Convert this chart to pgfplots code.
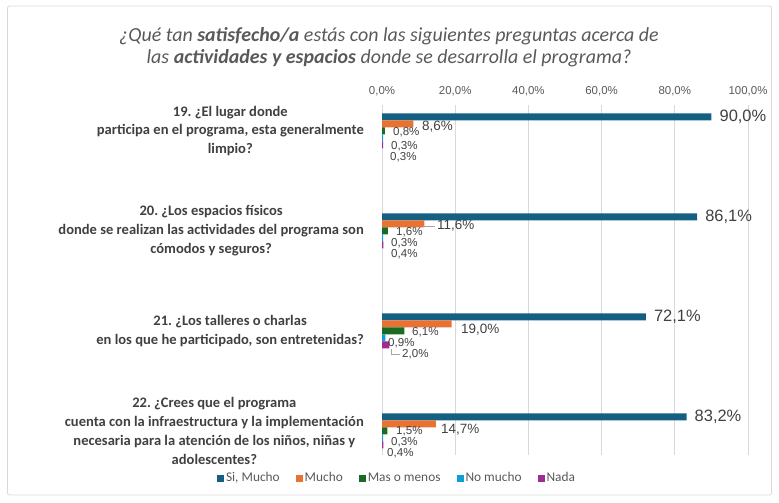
\documentclass[border=0pt]{standalone}
\usepackage{fontspec}
\setmainfont{Carlito}
\newfontfamily\arialf{Liberation Sans}
\usepackage{pgfplots}
\pgfplotsset{compat=1.18}
\definecolor{cBlue}{HTML}{156082}
\definecolor{cOrange}{HTML}{E97132}
\definecolor{cGreen}{HTML}{196B24}
\definecolor{cCyan}{HTML}{0F9ED5}
\definecolor{cPurple}{HTML}{A02B93}
\definecolor{txt}{HTML}{595959}
\definecolor{txtd}{HTML}{404040}
\definecolor{gridc}{HTML}{D9D9D9}
\definecolor{leader}{HTML}{A6A6A6}
\frenchspacing
\begin{document}
\frenchspacing
\begin{tikzpicture}[x=1bp,y=1bp,
  dl/.style={anchor=west, inner sep=0pt, font=\arialf\fontsize{11.6}{13}\selectfont, text=txtd},
  dlm/.style={anchor=west, inner sep=0pt, font=\arialf\fontsize{13.5}{15}\selectfont, text=txtd}]
\path[use as bounding box] (0,0) rectangle (779,503);
\draw[gridc, line width=0.8bp, rounded corners=2bp] (7.5,8) rectangle (771.5,497);
\node[font=\fontsize{20}{22}\selectfont\itshape, text=txt, align=center] at (389,456)
  {¿Qué tan \textbf{satisfecho/a} estás con las siguientes preguntas acerca de\\las \textbf{actividades y espacios} donde se desarrolla el programa?};
\begin{axis}[
  at={(382bp,48bp)}, anchor=south west,
  scale only axis, width=366bp, height=350bp,
  xbar, bar width=0.07,
  xmin=0, xmax=100, ymin=-0.24, ymax=3.26,
  axis line style={draw=none},
  major tick length=0pt,
  xtick={0,20,40,60,80,100},
  xtick pos=top,
  xticklabel pos=top,
  xmajorgrids, major grid style={draw=gridc, line width=0.8bp},
  /pgf/number format/assume math mode=true,
  xticklabel={\pgfmathprintnumber[fixed,fixed zerofill,precision=1,use comma]{\tick}\%},
  x tick label style={font=\arialf\fontsize{11.5}{13}\selectfont, text=txt, yshift=6bp},
  ytick={0,1,2,3},
  yticklabels={{22. ¿Crees que el programa\\cuenta con la infraestructura y la implementación\\necesaria para la atención de los niños, niñas y\\adolescentes?},
    {21. ¿Los talleres o charlas\\en los que he participado, son entretenidas?},
    {20. ¿Los espacios físicos\\donde se realizan las actividades del programa son\\cómodos y seguros?},
    {19. ¿El lugar donde\\participa en el programa, esta generalmente\\limpio?}},
  y tick label style={font=\frenchspacing\bfseries\fontsize{14.6}{19}\selectfont, text=txtd, align=center, inner sep=0pt, xshift=-18bp},
  clip=false,
  legend columns=5,
  legend style={at={(0.041,-0.066)}, anchor=center, draw=none, fill=none,
    font=\fontsize{13.4}{15}\selectfont, text=txt, inner sep=0pt,
    /tikz/every even column/.append style={column sep=14bp}},
  legend image code/.code={\fill[#1] (0bp,-3.5bp) rectangle (7bp,3.5bp);},
]
\addplot[fill=cBlue, draw=none, bar shift=0.14,
  point meta=x,
  nodes near coords={\pgfmathprintnumber[fixed,fixed zerofill,precision=1,use comma]{\pgfplotspointmeta}\%},
  every node near coord/.append style={anchor=west, xshift=8bp, inner sep=0pt,
    font=\arialf\fontsize{16.5}{18}\selectfont, text=txtd}]
  coordinates {(90.0,3) (86.1,2) (72.1,1) (83.2,0)};
\addlegendentry{Si, Mucho}
\addplot[fill=cOrange, draw=none, bar shift=0.07]
  coordinates {(8.6,3) (11.6,2) (19.0,1) (14.7,0)};
\addlegendentry{Mucho}
\addplot[fill=cGreen, draw=none, bar shift=0]
  coordinates {(0.8,3) (1.6,2) (6.1,1) (1.5,0)};
\addlegendentry{Mas o menos}
\addplot[fill=cCyan, draw=none, bar shift=-0.07]
  coordinates {(0.3,3) (0.3,2) (0.9,1) (0.3,0)};
\addlegendentry{No mucho}
\addplot[fill=cPurple, draw=none, bar shift=-0.14]
  coordinates {(0.3,3) (0.4,2) (2.0,1) (0.4,0)};
\addlegendentry{Nada}
% data labels (Q19)
\node[dlm] at (axis cs:10.93,3.04) {8,6\%};
\node[dl] at (axis cs:3.0,2.99) {0,8\%};
\node[dl] at (axis cs:2.46,2.85) {0,3\%};
\node[dl] at (axis cs:2.19,2.74) {0,3\%};
% Q20
\node[dlm] at (axis cs:15.03,2.05) {11,6\%};
\node[dl] at (axis cs:3.83,1.99) {1,6\%};
\node[dl] at (axis cs:2.46,1.88) {0,3\%};
\node[dl] at (axis cs:2.46,1.77) {0,4\%};
\draw[leader, line width=0.6bp] (axis cs:11.3,2.05) -- (axis cs:14.5,2.05);
% Q21
\node[dlm] at (axis cs:21.58,1.01) {19,0\%};
\node[dl] at (axis cs:8.2,0.99) {6,1\%};
\node[dl] at (axis cs:1.64,0.88) {0,9\%};
\node[dl] at (axis cs:5.46,0.77) {2,0\%};
\draw[leader, line width=0.6bp] (axis cs:2.6,0.82) -- (axis cs:2.6,0.77) -- (axis cs:5.0,0.77);
% Q22
\node[dlm] at (axis cs:16.12,0.01) {14,7\%};
\node[dl] at (axis cs:3.83,0.0) {1,5\%};
\node[dl] at (axis cs:2.46,-0.115) {0,3\%};
\node[dl] at (axis cs:1.37,-0.225) {0,4\%};
\end{axis}
\end{tikzpicture}
\end{document}
